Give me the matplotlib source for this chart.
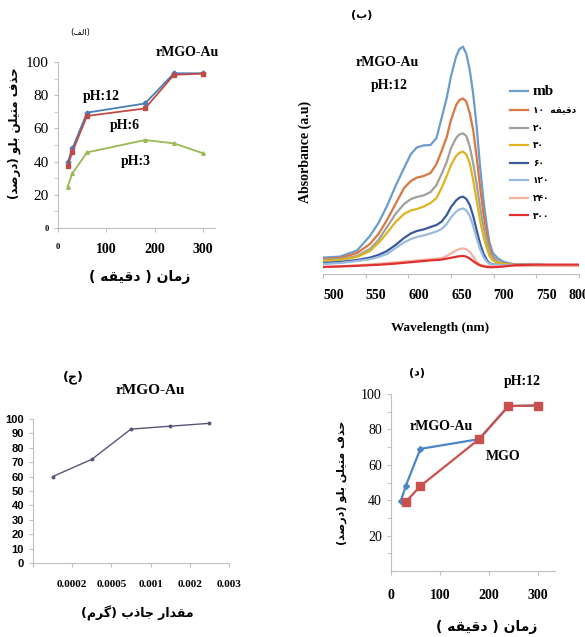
import matplotlib.pyplot as plt

plt.rcParams['font.family'] = ['Liberation Serif', 'DejaVu Sans']

W, H = 585, 637

# Persian words, written in visual (left-to-right) order with presentation forms
HAZF = "\uFED1\uFEAC\uFEA3"
METILEN = "\uFEE6\uFEE0\uFBFF\uFE98\uFEE3"
BLU = "\uFEEE\uFEE0\uFE91"
DARSAD = "\uFEAA\uFEBB\uFEAD\uFEA9"
ZAMAN = "\uFEE5\uFE8E\uFEE3\uFEAF"
DAQIQE = "\uFEEA\uFED8\uFBFF\uFED7\uFEA9"
MEQDAR = "\uFEAD\uFE8D\uFEAA\uFED8\uFEE3"
JAZEB = "\uFE8F\uFEAB\uFE8E\uFE9F"
GERAM = "\uFEE1\uFEAE\uFB94"

removal_label = "(" + DARSAD + ") " + BLU + " " + METILEN + " " + HAZF
time_label = "( " + DAQIQE + " ) " + ZAMAN
dose_label = "(" + GERAM + ") " + JAZEB + " " + MEQDAR
panel_labels = ["(\uFED2\uFEDF\uFE8D)", "(\uFE8F)", "(\uFE9D)", "(\uFEA9)"]

# (a) removal vs time at three pH values
time_a = [20, 30, 60, 180, 240, 300]
ph12 = [39.5, 48, 69.5, 75, 93.2, 93.2]
ph6 = [37.5, 46, 67.5, 72, 92.3, 93]
ph3 = [25, 33, 45.5, 53, 51, 45]

# (b) absorbance spectra
wavelength = [500, 520, 540, 555, 565, 575, 585, 595, 603, 610, 618, 626, 633, 639, 645, 650, 656,
              660, 664, 668, 672, 676, 680, 684, 688, 692, 695, 699, 705, 712, 725, 750, 800]
abs_mb = [0.082, 0.087, 0.118, 0.19, 0.255, 0.34, 0.44, 0.53, 0.6, 0.633, 0.643, 0.645, 0.68, 0.78,
          0.88, 0.99, 1.087, 1.125, 1.137, 1.1, 1.02, 0.9, 0.74, 0.54, 0.37, 0.24, 0.16, 0.105,
          0.078, 0.06, 0.048, 0.045, 0.043]
abs_10 = [0.075, 0.08, 0.105, 0.15, 0.2, 0.27, 0.35, 0.43, 0.465, 0.482, 0.49, 0.505, 0.55, 0.615,
          0.685, 0.77, 0.845, 0.87, 0.878, 0.862, 0.803, 0.72, 0.587, 0.437, 0.303, 0.2, 0.13,
          0.087, 0.062, 0.052, 0.046, 0.045, 0.043]
abs_20 = [0.07, 0.075, 0.09, 0.125, 0.17, 0.235, 0.3, 0.35, 0.375, 0.385, 0.393, 0.41, 0.445, 0.5,
          0.56, 0.63, 0.68, 0.698, 0.703, 0.69, 0.637, 0.553, 0.453, 0.337, 0.237, 0.162, 0.112,
          0.078, 0.06, 0.05, 0.046, 0.045, 0.043]
abs_30 = [0.065, 0.07, 0.085, 0.115, 0.155, 0.205, 0.26, 0.3, 0.318, 0.325, 0.337, 0.355, 0.38, 0.43,
          0.49, 0.545, 0.59, 0.606, 0.612, 0.598, 0.553, 0.47, 0.37, 0.27, 0.187, 0.128, 0.09,
          0.067, 0.055, 0.05, 0.046, 0.045, 0.043]
abs_60 = [0.055, 0.06, 0.07, 0.082, 0.095, 0.115, 0.145, 0.18, 0.203, 0.215, 0.223, 0.235, 0.245,
          0.262, 0.295, 0.335, 0.368, 0.382, 0.387, 0.375, 0.345, 0.29, 0.22, 0.153, 0.103, 0.07,
          0.055, 0.048, 0.045, 0.044, 0.045, 0.045, 0.043]
abs_120 = [0.05, 0.055, 0.065, 0.074, 0.085, 0.1, 0.13, 0.158, 0.175, 0.185, 0.193, 0.203, 0.213,
           0.225, 0.25, 0.283, 0.312, 0.323, 0.328, 0.318, 0.29, 0.24, 0.18, 0.125, 0.085, 0.062,
           0.052, 0.047, 0.045, 0.044, 0.045, 0.045, 0.043]
abs_240 = [0.035, 0.038, 0.043, 0.048, 0.051, 0.055, 0.058, 0.062, 0.065, 0.068, 0.071, 0.074, 0.077,
           0.08, 0.09, 0.103, 0.118, 0.125, 0.128, 0.124, 0.111, 0.087, 0.062, 0.047, 0.042, 0.04,
           0.039, 0.038, 0.038, 0.039, 0.041, 0.042, 0.04]
abs_300 = [0.035, 0.038, 0.041, 0.044, 0.046, 0.049, 0.052, 0.056, 0.059, 0.062, 0.065, 0.068, 0.07,
           0.072, 0.077, 0.081, 0.086, 0.089, 0.09, 0.087, 0.077, 0.064, 0.052, 0.043, 0.038, 0.035,
           0.034, 0.034, 0.035, 0.038, 0.044, 0.047, 0.047]
spectra = [abs_mb, abs_10, abs_20, abs_30, abs_60, abs_120, abs_240, abs_300]
spectra_labels = ["mb", "\u06F1\u06F0  " + DAQIQE, "\u06F2\u06F0", "\u06F3\u06F0", "\u06F6\u06F0",
                  "\u06F1\u06F2\u06F0", "\u06F2\u06F4\u06F0", "\u06F3\u06F0\u06F0"]
spectra_colors = ["#6a9ccc", "#d9773f", "#a0a0a0", "#dcb520", "#3a5a9a", "#98bcdf", "#f2b3a3", "#e03030"]

# (c) removal vs adsorbent dose
dose_labels = ["0.0002", "0.0005", "0.001", "0.002", "0.003"]
dose_removal = [60, 72, 93, 95, 97]

# (d) rMGO-Au vs MGO at pH 12
time_rmgo = [20, 30, 60, 180, 240, 300]
rmgo = [39.5, 48, 69, 74.5, 93.2, 93.5]
time_mgo = [30, 60, 180, 240, 300]
mgo = [39, 48, 74.5, 93.2, 93.5]

fa = ['DejaVu Sans']
grey = '#bfbfbf'


def px_axes(x0, y0, x1, y1):
    return fig.add_axes([x0 / W, 1 - y1 / H, (x1 - x0) / W, (y1 - y0) / H])


def ftext(x, y, s, **kw):
    fig.text(x / W, 1 - y / H, s, ha='center', va='center', **kw)


def style_axes(ax):
    for s in ['top', 'right']:
        ax.spines[s].set_visible(False)
    for s in ['left', 'bottom']:
        ax.spines[s].set_color(grey)
    ax.tick_params(colors=grey, labelcolor='black', length=3, width=0.8)


fig = plt.figure(figsize=(W / 100, H / 100), dpi=100)

# ---- (a)
ax1 = px_axes(58, 62, 215, 228)
ax1.plot(time_a, ph12, color='#4a7ebb', lw=1.3, marker='D', ms=2.5)
ax1.plot(time_a, ph6, color='#be4b48', lw=1.3, marker='s', ms=3)
ax1.plot(time_a, ph3, color='#98b954', lw=1.3, marker='^', ms=2.5)
ax1.set_xlim(0, 325)
ax1.set_ylim(0, 100)
style_axes(ax1)
ax1.set_xticks([0, 100, 200, 300])
ax1.set_xticklabels(['0', '100', '200', '300'], fontsize=10, fontweight='bold')
ax1.xaxis.get_ticklabels()[0].set_fontsize(6)
ax1.set_yticks([0, 20, 40, 60, 80, 100])
ax1.set_yticks(range(10, 100, 20), minor=True)
ax1.set_yticklabels(['0', '20', '40', '60', '80', '100'], fontsize=11)
ax1.yaxis.get_ticklabels()[0].set_fontsize(6)
ax1.yaxis.get_ticklabels()[0].set_fontweight('bold')
ax1.tick_params(axis='y', which='both', colors=grey, labelcolor='black', length=3)
ax1.tick_params(axis='x', pad=8)
ax1.text(90, 79, "pH:12", fontsize=10, fontweight='bold', ha='center', va='center')
ax1.text(138, 62, "pH:6", fontsize=10, fontweight='bold', ha='center', va='center')
ax1.text(162, 40, "pH:3", fontsize=10, fontweight='bold', ha='center', va='center')
ftext(187, 53, "rMGO-Au", fontsize=10, fontweight='bold')
ftext(80, 33, panel_labels[0], fontsize=6, family=fa)
ftext(14, 133, removal_label, fontsize=8.5, fontweight='bold', family=fa, rotation=90)
ftext(140, 277, time_label, fontsize=10, fontweight='bold', family=fa)

# ---- (b)
ax2 = px_axes(323, 30, 579, 274)
for vals, lab, col in zip(spectra, spectra_labels, spectra_colors):
    ax2.plot(wavelength, vals, color=col, lw=1.6, label=lab, solid_joinstyle='round')
ax2.set_xlim(500, 800)
ax2.set_ylim(0, 1.22)
for s in ['top', 'right', 'left']:
    ax2.spines[s].set_visible(False)
ax2.spines['bottom'].set_color(grey)
ax2.set_yticks([])
ax2.set_xticks(range(500, 801, 50))
ax2.tick_params(axis='x', colors=grey, labelcolor='black', length=3, pad=8)
for t in ax2.get_xticklabels():
    t.set_fontsize(10)
    t.set_fontweight('bold')
    t.set_ha('left')
ax2.get_xticklabels()[-1].set_ha('center')
leg = ax2.legend(loc='upper left', bbox_to_anchor=(505 / W, 1 - 80 / H), bbox_transform=fig.transFigure,
                 frameon=False, handlelength=2.0, handletextpad=0.6, labelspacing=0.95,
                 borderpad=0, prop={'family': fa, 'size': 6.5, 'weight': 'bold'})
leg.get_texts()[0].set_fontfamily('Liberation Serif')
leg.get_texts()[0].set_fontsize(11)
ftext(362, 15, panel_labels[1], fontsize=8, fontweight='bold', family=fa)
ftext(387, 62, "rMGO-Au", fontsize=10, fontweight='bold')
ftext(389, 86, "pH:12", fontsize=10, fontweight='bold')
ftext(305, 152, "Absorbance (a.u)", fontsize=10, fontweight='bold', rotation=90)
ftext(440, 328, "Wavelength (nm)", fontsize=9.5, fontweight='bold')

# ---- (c)
ax3 = px_axes(33, 419, 229, 563)
ax3.plot([0.5, 1.5, 2.5, 3.5, 4.5], dose_removal, color='#55557a', lw=1, marker='o', ms=1.8)
ax3.set_xlim(0, 5)
ax3.set_ylim(0, 100)
style_axes(ax3)
ax3.set_xticks([0, 1, 2, 3, 4, 5])
ax3.set_xticklabels([''] + dose_labels, fontsize=8, fontweight='bold')
ax3.set_yticks(range(0, 101, 10))
ax3.set_yticklabels([str(v) for v in range(0, 101, 10)], fontsize=8, fontweight='bold',
                    family='Liberation Sans')
ax3.tick_params(axis='x', pad=9)
ftext(73, 377, panel_labels[2], fontsize=9, fontweight='bold', family=fa)
ftext(150, 390, "rMGO-Au", fontsize=11, fontweight='bold')
ftext(137, 613, dose_label, fontsize=9, fontweight='bold', family=fa)

# ---- (d)
ax4 = px_axes(391, 394, 555, 571)
ax4.plot(time_rmgo, rmgo, color='#4a86c8', lw=1.6, marker='D', ms=3)
ax4.plot(time_mgo, mgo, color='#c9504d', lw=1.6, marker='s', ms=5.5)
ax4.set_xlim(0, 335)
ax4.set_ylim(0, 100)
style_axes(ax4)
ax4.set_xticks([0, 100, 200, 300])
ax4.set_xticklabels(['0', '100', '200', '300'], fontsize=10, fontweight='bold')
ax4.set_yticks([20, 40, 60, 80, 100])
ax4.set_yticks(range(10, 100, 20), minor=True)
ax4.set_yticklabels(['20', '40', '60', '80', '100'], fontsize=10)
ax4.tick_params(axis='y', which='both', colors=grey, labelcolor='black', length=3)
ax4.tick_params(axis='x', pad=10)
ftext(417, 373, panel_labels[3], fontsize=8, fontweight='bold', family=fa)
ftext(522, 381, "pH:12", fontsize=10, fontweight='bold')
ftext(441, 427, "rMGO-Au", fontsize=10, fontweight='bold')
ftext(503, 456, "MGO", fontsize=10, fontweight='bold')
ftext(342, 483, removal_label, fontsize=8, fontweight='bold', family=fa, rotation=90)
ftext(487, 627, time_label, fontsize=10, fontweight='bold', family=fa)

fig.savefig('out.png', dpi=100)
